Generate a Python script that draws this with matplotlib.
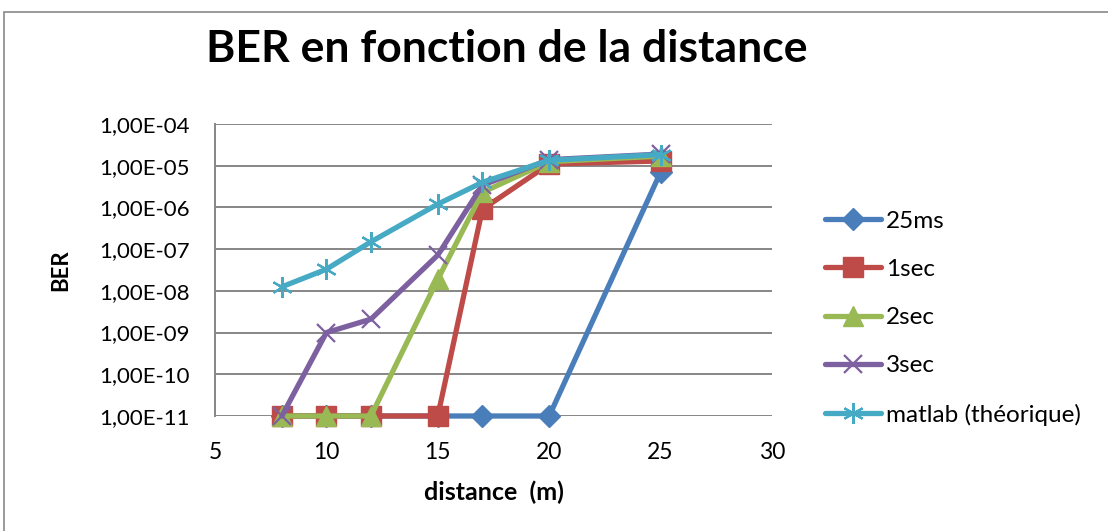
import matplotlib
matplotlib.use("Agg")
import matplotlib.pyplot as plt
from matplotlib.patches import Rectangle
from matplotlib.ticker import FixedLocator, FuncFormatter

plt.rcParams['font.family'] = ['Lato', 'DejaVu Sans']

title = "BER en fonction de la distance"
xlabel = "distance  (m)"
ylabel = "BER"

series_names = ["25ms", "1sec", "2sec", "3sec", "matlab (théorique)"]
x_25ms = [8, 10, 12, 15, 17, 20, 25]
y_25ms = [1e-11, 1e-11, 1e-11, 1e-11, 1e-11, 1e-11, 7e-6]
x_1sec = [8, 10, 12, 15, 17, 20, 25]
y_1sec = [1e-11, 1e-11, 1e-11, 1e-11, 9e-7, 1.1e-5, 1.3e-5]
x_2sec = [8, 10, 12, 15, 17, 20, 25]
y_2sec = [1e-11, 1e-11, 1e-11, 1.9e-8, 2.3e-6, 1.25e-5, 1.7e-5]
x_3sec = [8, 10, 12, 15, 17, 20, 25]
y_3sec = [1e-11, 1e-9, 2.1e-9, 7.2e-8, 3.4e-6, 1.4e-5, 1.9e-5]
x_matlab = [8, 10, 12, 15, 17, 20, 25]
y_matlab = [1.25e-8, 3.3e-8, 1.5e-7, 1.2e-6, 4e-6, 1.35e-5, 1.85e-5]

x_ticks = [5, 10, 15, 20, 25, 30]
y_ticks = [1e-11, 1e-10, 1e-9, 1e-8, 1e-7, 1e-6, 1e-5, 1e-4]

colors = ["#4A7EBB", "#BE4B48", "#98B954", "#7D60A0", "#46AAC5"]

fig = plt.figure(figsize=(11.08, 5.31), dpi=100)
fig.patches.append(Rectangle((4/1108, -0.1), 1.2, 1 - 12/531 + 0.1, transform=fig.transFigure,
                             fill=False, edgecolor="#898989", linewidth=1.2))

ax = fig.add_axes([215/1108, 1 - 416/531, (772 - 215)/1108, (416 - 124)/531])
xs = [x_25ms, x_1sec, x_2sec, x_3sec, x_matlab]
ys = [y_25ms, y_1sec, y_2sec, y_3sec, y_matlab]
styles = [
    dict(marker="D", ms=11),
    dict(marker="s", ms=14),
    dict(marker="^", ms=15),
    dict(marker="x", ms=13, mew=1.6),
    dict(marker=(6, 2, 0), ms=15, mew=1.6),
]
for xv, yv, name, c, st in zip(xs, ys, series_names, colors, styles):
    ax.plot(xv, yv, color=c, lw=3.8, label=name, clip_on=False, zorder=3,
            mec=c, mfc=c, solid_capstyle="round", **st)

ax.set_yscale("log")
ax.set_xlim(5, 30)
ax.set_ylim(1e-11, 1e-4)
ax.xaxis.set_major_locator(FixedLocator(x_ticks))
ax.yaxis.set_major_locator(FixedLocator(y_ticks))
ax.yaxis.set_minor_locator(FixedLocator([]))
ax.yaxis.set_major_formatter(FuncFormatter(lambda v, p: ("%.2E" % v).replace(".", ",")))
ax.xaxis.set_major_formatter(FuncFormatter(lambda v, p: "%d" % v))
ax.grid(axis="y", color="#868686", lw=1.4)
ax.set_axisbelow(True)
for s in ["top", "right", "bottom"]:
    ax.spines[s].set_visible(False)
ax.spines["left"].set_color("#868686")
ax.spines["left"].set_linewidth(1.4)
ax.tick_params(axis="y", length=0, labelsize=16, pad=18)
ax.tick_params(axis="x", length=0, labelsize=16.5, pad=19)

ax.set_xlabel(xlabel, fontsize=18, fontweight="bold")
ax.xaxis.set_label_coords(0.5, -(492 - 416) / 292, transform=ax.transAxes)
ax.xaxis.label.set_va("center")
ax.set_ylabel(ylabel, fontsize=16, fontweight="bold")
ax.yaxis.set_label_coords(-(215 - 61) / 557, 0.5, transform=ax.transAxes)
ax.yaxis.label.set_va("center")
fig.text(507/1108, 1 - 49/531, title, fontsize=32, fontweight="bold", ha="center", va="center")

leg = ax.legend(loc="center left", bbox_to_anchor=(1.095, 0.335), frameon=False, fontsize=17.5,
                handlelength=2.3, labelspacing=1.12, handletextpad=0.2, borderaxespad=0, borderpad=0)

fig.savefig("out.png", dpi=100)
